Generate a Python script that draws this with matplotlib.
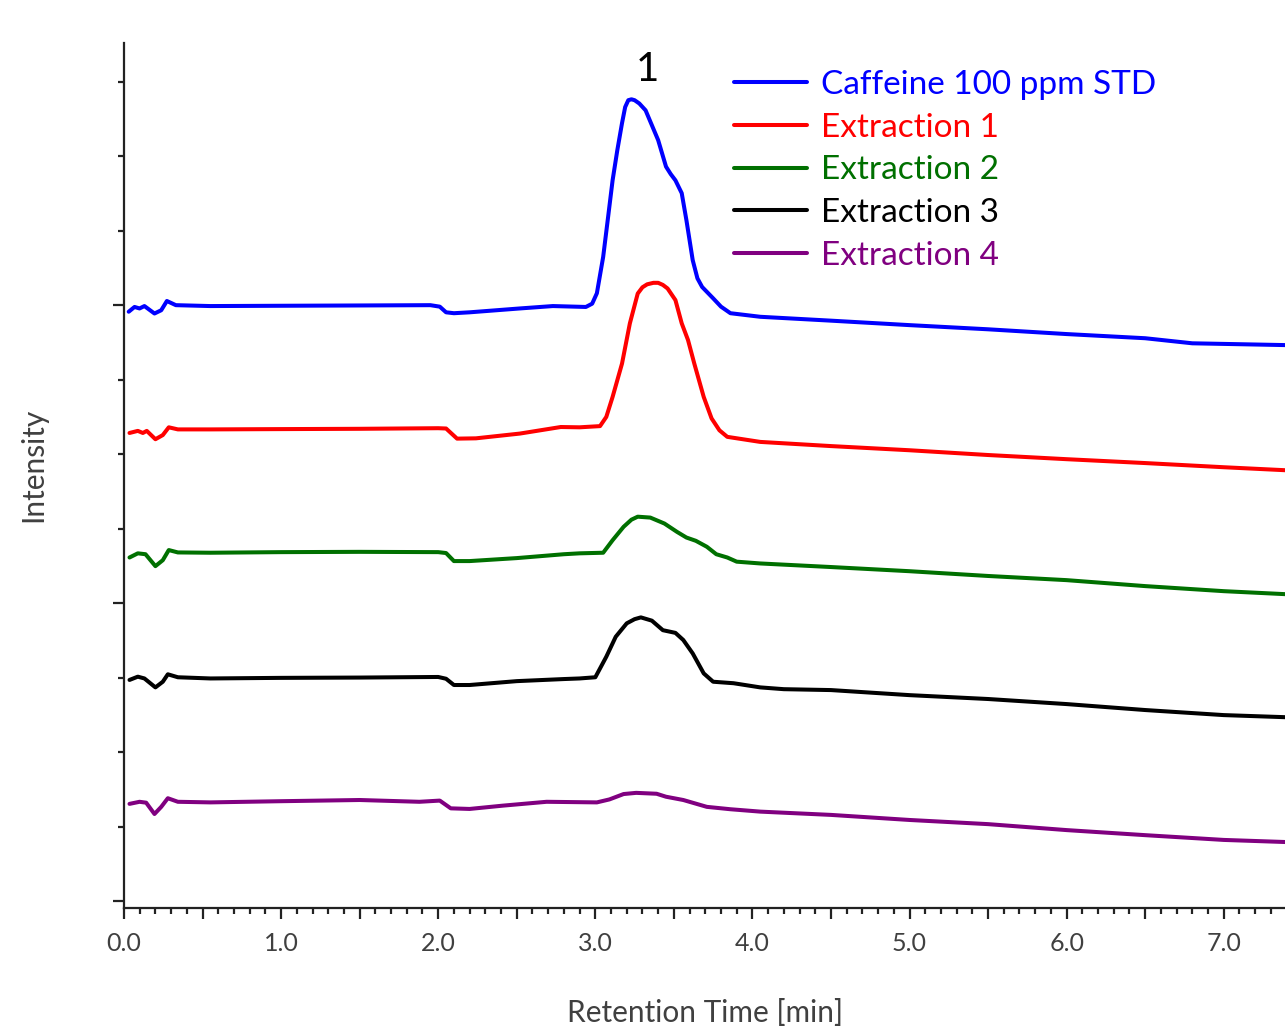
import numpy as np
import matplotlib
matplotlib.use("Agg")
import matplotlib.pyplot as plt
from matplotlib.ticker import MultipleLocator, FixedLocator

plt.rcParams['font.family'] = ['Lato', 'DejaVu Sans']

# retention time (min) and intensity (a.u., offset traces)
t_std = [0.03, 0.067, 0.099, 0.13, 0.194, 0.237, 0.273, 0.33, 0.55, 1.0, 1.5, 1.95, 2.01, 2.05, 2.10,
         2.2, 2.52, 2.73, 2.94, 2.98, 3.01, 3.05, 3.08, 3.11, 3.14, 3.17, 3.19, 3.21, 3.23, 3.25, 3.28,
         3.32, 3.36, 3.40, 3.45, 3.48, 3.51, 3.55, 3.58, 3.62, 3.65, 3.68, 3.75, 3.80, 3.86, 4.05,
         4.5, 5.0, 5.5, 6.0, 6.5, 6.8, 7.39]
i_std = [197.8, 199.4, 198.9, 199.7, 197.2, 198.3, 201.4, 200.0, 199.7, 199.8, 199.9, 200.0, 199.5, 197.6, 197.3,
         197.6, 198.9, 199.7, 199.4, 200.5, 204.0, 216.2, 229.0, 241.9, 252.0, 261.1, 266.5, 268.8, 269.1, 268.8, 267.7,
         265.4, 260.4, 255.4, 246.5, 244.0, 241.9, 237.6, 228.5, 215.1, 209.0, 206.1, 202.3, 199.5, 197.3, 196.1,
         194.8, 193.3, 191.9, 190.3, 188.9, 187.2, 186.6]

t_ext1 = [0.035, 0.088, 0.12, 0.145, 0.2, 0.247, 0.285, 0.343, 0.55, 1.0, 1.5, 2.0, 2.05, 2.12, 2.24,
          2.52, 2.78, 2.90, 3.03, 3.07, 3.11, 3.17, 3.22, 3.27, 3.30, 3.33, 3.37, 3.40, 3.43, 3.46, 3.51,
          3.55, 3.59, 3.63, 3.69, 3.74, 3.79, 3.84, 4.05, 4.5, 5.0, 5.5, 6.0, 6.5, 7.0, 7.39]
i_ext1 = [157.1, 157.8, 157.1, 157.8, 155.0, 156.4, 159.0, 158.3, 158.3, 158.4, 158.5, 158.7, 158.6, 155.2, 155.3,
          156.9, 159.1, 159.0, 159.4, 162.5, 169.2, 180.4, 193.9, 203.9, 206.0, 207.0, 207.5, 207.5, 206.8, 205.6, 201.7,
          193.9, 188.3, 180.4, 169.2, 162.0, 158.0, 155.8, 154.1, 152.7, 151.3, 149.7, 148.3, 147.0, 145.6, 144.6]

t_ext2 = [0.035, 0.088, 0.137, 0.2, 0.247, 0.285, 0.343, 0.55, 1.0, 1.5, 2.0, 2.05, 2.1, 2.2, 2.5,
          2.8, 2.90, 3.05, 3.11, 3.18, 3.23, 3.27, 3.35, 3.44, 3.52, 3.58, 3.64, 3.71, 3.77, 3.84, 3.90,
          4.05, 4.5, 5.0, 5.5, 6.0, 6.5, 7.0, 7.39]
i_ext2 = [115.3, 116.7, 116.4, 112.4, 114.4, 117.8, 117.0, 116.9, 117.1, 117.2, 117.1, 116.8, 114.1, 114.1, 115.1,
          116.4, 116.7, 116.9, 121.1, 125.6, 128.0, 129.0, 128.7, 126.7, 123.9, 122.0, 120.9, 118.9, 116.4, 115.3, 113.9,
          113.3, 112.1, 110.7, 109.1, 107.7, 105.7, 104.0, 103.0]

t_ext3 = [0.035, 0.088, 0.13, 0.2, 0.247, 0.279, 0.343, 0.55, 1.0, 1.5, 2.0, 2.05, 2.1, 2.2, 2.5,
          2.8, 2.90, 3.00, 3.07, 3.13, 3.20, 3.25, 3.29, 3.36, 3.43, 3.51, 3.56, 3.62, 3.69, 3.75, 3.88,
          4.05, 4.2, 4.5, 5.0, 5.5, 6.0, 6.5, 7.0, 7.39]
i_ext3 = [74.2, 75.3, 74.7, 71.7, 73.6, 76.1, 75.1, 74.7, 74.9, 75.0, 75.2, 74.6, 72.5, 72.5, 73.8,
          74.5, 74.7, 75.1, 82.0, 88.7, 93.2, 94.6, 95.2, 94.1, 90.9, 90.0, 87.6, 83.1, 76.4, 73.6, 73.1,
          71.7, 71.1, 70.8, 69.1, 67.8, 66.1, 64.1, 62.4, 61.7]

t_ext4 = [0.035, 0.099, 0.141, 0.194, 0.237, 0.279, 0.343, 0.55, 1.0, 1.5, 1.88, 2.01, 2.08, 2.20, 2.41,
          2.69, 3.01, 3.09, 3.18, 3.26, 3.39, 3.45, 3.56, 3.71, 3.86, 4.05, 4.5, 5.0, 5.5, 6.0,
          6.5, 7.0, 7.39]
i_ext4 = [32.6, 33.3, 33.0, 29.2, 31.6, 34.5, 33.3, 33.1, 33.5, 33.9, 33.3, 33.7, 31.1, 30.9, 32.0,
          33.3, 33.1, 34.1, 35.9, 36.3, 36.0, 35.0, 33.9, 31.6, 30.8, 30.0, 28.9, 27.2, 25.8, 23.8,
          22.1, 20.5, 19.8]

labels = ["Caffeine 100 ppm STD", "Extraction 1", "Extraction 2", "Extraction 3", "Extraction 4"]
colors = ["#0000ff", "#ff0000", "#007000", "#000000", "#800080"]
series = [(t_std, i_std), (t_ext1, i_ext1), (t_ext2, i_ext2), (t_ext3, i_ext3), (t_ext4, i_ext4)]

fig = plt.figure(figsize=(12.85, 10.27), dpi=100)
ax = fig.add_axes([124 / 1285, 119 / 1027, 1161 / 1285, 865 / 1027])

for (t, y), lab, c in zip(series, labels, colors):
    ax.plot(t, y, color=c, lw=2.9, label=lab, solid_capstyle='round', solid_joinstyle='round')

ax.set_xlim(0, 7.39)
ax.set_ylim(-2.35, 288)

for s in ['top', 'right']:
    ax.spines[s].set_visible(False)
for s in ['left', 'bottom']:
    ax.spines[s].set_linewidth(1.6)
    ax.spines[s].set_color('#222222')

xt = np.arange(0, 7.4, 0.5)
ax.set_xticks(xt)
ax.set_xticklabels(["%.1f" % v if v == int(v) else "" for v in xt])
ax.xaxis.set_minor_locator(MultipleLocator(0.1))
ax.yaxis.set_major_locator(FixedLocator([0, 100, 200]))
ax.yaxis.set_minor_locator(MultipleLocator(25))
ax.set_yticklabels([])

ax.tick_params(axis='both', which='major', direction='out', length=8, width=1.6, color='#222222',
               labelsize=18, labelcolor='#404040', pad=9)
ax.tick_params(axis='both', which='minor', direction='out', length=4.5, width=1.6, color='#222222')

fig.text(705 / 1285, 1 - 1013 / 1027, "Retention Time [min]", ha='center', va='center',
         fontsize=21.5, color='#404040')
fig.text(33 / 1285, 1 - 465 / 1027, "Intensity", ha='center', va='center', rotation=90,
         fontsize=21.5, color='#404040')

ax.text(3.33, 273, "1", ha='center', va='bottom', fontsize=29, color='black')

leg = ax.legend(loc='upper left', bbox_to_anchor=(734 / 1285, 1 - 70 / 1027),
                bbox_transform=fig.transFigure, frameon=False, fontsize=24,
                handlelength=2.2, handletextpad=0.42, labelspacing=0.38, labelcolor='linecolor',
                borderaxespad=0, borderpad=0)

fig.savefig("out.png", dpi=100)
